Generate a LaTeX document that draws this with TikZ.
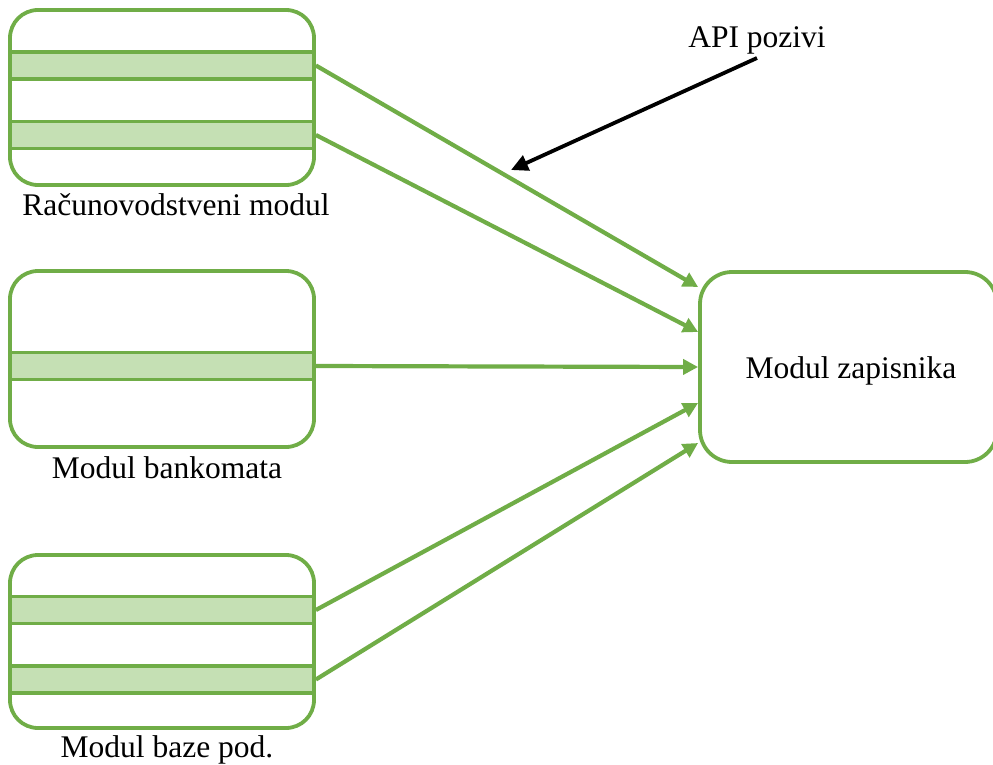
\documentclass[tikz,border=0pt]{standalone}
\usepackage{fontspec}
\setmainfont{Liberation Serif}
\usetikzlibrary{arrows.meta,calc}
\definecolor{gline}{HTML}{70AD47}
\definecolor{gfill}{HTML}{C5E0B4}
\begin{document}
\begin{tikzpicture}[x=1pt,y=-1pt,
  modbox/.style={draw=gline, line width=3.8pt, rounded corners=28pt, minimum width=304pt, inner sep=0pt},
  band/.style={draw=gline, fill=gfill, line width=3.8pt, minimum width=304pt, minimum height=27pt, inner sep=0pt},
  zapbox/.style={draw=gline, line width=3.8pt, rounded corners=32pt, minimum width=297pt, minimum height=190pt, inner sep=0pt},
  lbl/.style={font=\fontsize{31.5}{36}\selectfont, anchor=base, inner sep=0pt},
  garrow/.style={draw=gline, line width=4.2pt, -{Triangle[length=15pt,width=15pt]}},
  barrow/.style={draw=black, line width=3.8pt, -{Triangle[length=17pt,width=16pt]}}]
\useasboundingbox (0,0) rectangle (993,765);
% left boxes
\node[modbox, minimum height=175pt] (rac) at (162,97.5) {};
\node[band] (r1) at (162,65.5) {};
\node[band] (r2) at (162,135) {};
\node[lbl] (racl) at (176,215) {Računovodstveni modul};

\node[modbox, minimum height=176pt] (ban) at (162,359) {};
\node[band] (b1) at (162,366) {};
\node[lbl] (banl) at (167,478) {Modul bankomata};

\node[modbox, minimum height=173pt] (baz) at (162,641.5) {};
\node[band] (z1) at (162,610) {};
\node[band] (z2) at (162,679.5) {};
\node[lbl] (bazl) at (167,757) {Modul baze pod.};

% right box
\node[zapbox] (zap) at (848.5,367) {};
\node[lbl] (zapl) at (851,378) {Modul zapisnika};

% arrows
\draw[garrow] (r1.east) -- ([yshift=80pt]zap.west);
\draw[garrow] (r2.east) -- ([yshift=35pt]zap.west);
\draw[garrow] (b1.east) -- ([yshift=0pt]zap.west);
\draw[garrow] (z1.east) -- ([yshift=-36pt]zap.west);
\draw[garrow] (z2.east) -- ([yshift=-76pt]zap.west);

% API label and arrow
\node[lbl] (api) at (757,48) {API pozivi};
\coordinate (apitip) at (511,170);
\draw[barrow] (757,58) -- (apitip);
\end{tikzpicture}
\end{document}
